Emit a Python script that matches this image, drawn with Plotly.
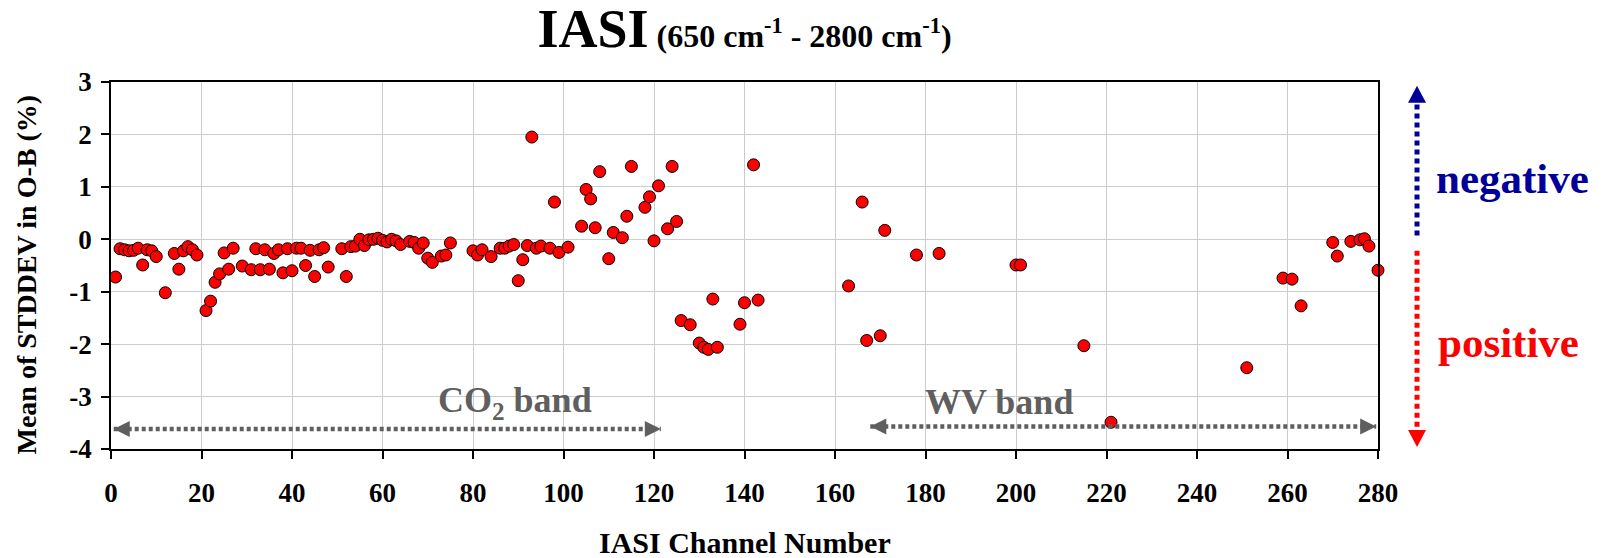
import plotly.graph_objects as go

# ---------------- data ----------------
channels = [1, 2, 3, 4, 5, 6, 7, 8, 9, 10, 12, 14, 15, 16, 17, 18, 19, 21, 22, 23,
            24, 25, 26, 27, 29, 31, 32, 33, 34, 35, 36, 37, 38, 39, 40, 41, 42, 43, 44, 45,
            46, 47, 48, 51, 52, 53, 54, 55, 56, 57, 58, 59, 60, 61, 62, 63, 64, 66, 67, 68,
            69, 70, 71, 73, 74, 75, 80, 81, 82, 84, 86, 87, 88, 89, 90, 91, 92, 93, 94, 95,
            97, 98, 99, 101, 104, 105, 106, 107, 108, 110, 111, 113, 114, 115, 118, 119, 120, 121, 123, 124,
            125, 126, 128, 130, 131, 132, 133, 134, 139, 140, 142, 143, 163, 166, 167, 170, 171, 178, 183, 200,
            201, 215, 221, 251, 259, 261, 263, 270, 271, 274, 276, 277, 278, 280]
stddev_change = [-0.72, -0.18, -0.20, -0.22, -0.21, -0.17, -0.49, -0.20, -0.22, -0.33, -1.02, -0.27, -0.57, -0.22, -0.14, -0.20, -0.30, -1.36, -1.18, -0.82,
                 -0.66, -0.26, -0.57, -0.17, -0.51, -0.58, -0.18, -0.58, -0.20, -0.57, -0.27, -0.20, -0.64, -0.18, -0.60, -0.17, -0.17, -0.50, -0.21, -0.71,
                 -0.20, -0.16, -0.53, -0.18, -0.71, -0.14, -0.13, 0.00, -0.12, -0.01, 0.00, 0.02, -0.02, -0.05, 0.00, -0.03, -0.10, -0.04, -0.06, -0.17,
                 -0.07, -0.36, -0.44, -0.32, -0.30, -0.07, -0.22, -0.30, -0.20, -0.33, -0.17, -0.17, -0.13, -0.10, -0.79, -0.39, -0.12, 1.95, -0.17, -0.13,
                 -0.17, 0.71, -0.25, -0.15, 0.25, 0.95, 0.77, 0.22, 1.29, -0.37, 0.13, 0.03, 0.44, 1.39, 0.61, 0.81, -0.03, 1.02, 0.20, 1.39,
                 0.34, -1.55, -1.63, -1.98, -2.06, -2.10, -1.14, -2.06, -1.62, -1.21, 1.42, -1.16, -0.89, 0.71, -1.93, -1.84, 0.17, -0.30, -0.27, -0.49,
                 -0.49, -2.03, -3.49, -2.45, -0.74, -0.76, -1.27, -0.06, -0.32, -0.04, -0.01, 0.01, -0.13, -0.59]
assert len(channels) == len(stddev_change)

x_tickvals = [0, 20, 40, 60, 80, 100, 120, 140, 160, 180, 200, 220, 240, 260, 280]
x_ticktext = ["0", "20", "40", "60", "80", "100", "120", "140", "160", "180", "200", "220", "240", "260", "280"]
y_tickvals = [-4, -3, -2, -1, 0, 1, 2, 3]
y_ticktext = ["-4", "-3", "-2", "-1", "0", "1", "2", "3"]

FONT = "Liberation Serif, Times New Roman, serif"
GRAY = "#5f5f5f"
BLUE = "#000099"
RED = "#ff0000"

W, H = 1596, 550  # page body adds an 8px offset inside the 1604x558 window

fig = go.Figure()
fig.add_trace(go.Scatter(
    x=channels, y=stddev_change, mode="markers",
    marker=dict(color=RED, size=12, line=dict(color="black", width=1)),
    cliponaxis=False, showlegend=False, hoverinfo="x+y",
))

shapes = []
annotations = []

# ---- band arrows (dotted, with triangle heads) ----
def h_arrow(x_left_tip, x_right_tip, y):
    head = 16  # px
    shapes.append(dict(type="line", xref="x", yref="y",
                       x0=x_left_tip, x1=x_right_tip, y0=y, y1=y,
                       line=dict(color=GRAY, width=4.5, dash="4px,3px"),
                       layer="above"))
    shapes.append(dict(type="path", xref="x", yref="y", xsizemode="pixel", ysizemode="pixel",
                       xanchor=x_left_tip, yanchor=y,
                       path=f"M 0,0 L {head},8 L {head},-8 Z",
                       fillcolor=GRAY, line=dict(width=0), layer="above"))
    shapes.append(dict(type="path", xref="x", yref="y", xsizemode="pixel", ysizemode="pixel",
                       xanchor=x_right_tip, yanchor=y,
                       path=f"M 0,0 L {-head},8 L {-head},-8 Z",
                       fillcolor=GRAY, line=dict(width=0), layer="above"))

h_arrow(0.6, 121.5, -3.62)
h_arrow(167.8, 279.6, -3.57)

annotations.append(dict(x=89.3, y=-3.11, xref="x", yref="y", showarrow=False,
                        text="CO<sub>2</sub> band", xanchor="center", yanchor="middle",
                        font=dict(family=FONT, size=36, color=GRAY, weight="bold")))
annotations.append(dict(x=196.2, y=-3.11, xref="x", yref="y", showarrow=False,
                        text="WV band", xanchor="center", yanchor="middle",
                        font=dict(family=FONT, size=36, color=GRAY, weight="bold")))

# ---- right side vertical arrows ----
xr = 1.0308
shapes.append(dict(type="line", xref="paper", yref="y", x0=xr, x1=xr, y0=0.07, y1=2.62,
                   line=dict(color=BLUE, width=5, dash="5px,4px")))
shapes.append(dict(type="path", xref="paper", yref="y", xsizemode="pixel", ysizemode="pixel",
                   xanchor=xr, yanchor=2.93, path="M 0,0 L -9,-17 L 9,-17 Z",
                   fillcolor=BLUE, line=dict(width=0)))
shapes.append(dict(type="line", xref="paper", yref="y", x0=xr, x1=xr, y0=-0.22, y1=-3.64,
                   line=dict(color=RED, width=5, dash="5px,4px")))
shapes.append(dict(type="path", xref="paper", yref="y", xsizemode="pixel", ysizemode="pixel",
                   xanchor=xr, yanchor=-3.96, path="M 0,0 L -9,17 L 9,17 Z",
                   fillcolor=RED, line=dict(width=0)))

annotations.append(dict(x=1.0445, y=1.16, xref="paper", yref="y", showarrow=False,
                        text="negative", xanchor="left", yanchor="middle",
                        font=dict(family=FONT, size=43, color=BLUE, weight="bold")))
annotations.append(dict(x=1.0455, y=-1.96, xref="paper", yref="y", showarrow=False,
                        text="positive", xanchor="left", yanchor="middle",
                        font=dict(family=FONT, size=43, color=RED, weight="bold")))

# ---- axis titles ----
annotations.append(dict(x=0, y=0.5, xref="paper", yref="paper", showarrow=False,
                        xshift=-85, yshift=-9, textangle=-90,
                        text="Mean of STDDEV in O-B (%)", xanchor="center", yanchor="middle",
                        font=dict(family=FONT, size=28, color="black", weight="bold")))
annotations.append(dict(x=0.5, y=0, xref="paper", yref="paper", showarrow=False,
                        yshift=-93, text="IASI Channel Number", xanchor="center", yanchor="middle",
                        font=dict(family=FONT, size=30, color="black", weight="bold")))

axis_common = dict(showline=True, linecolor="black", linewidth=1.5, mirror=True,
                   ticks="outside", ticklen=8, tickwidth=1.5, tickcolor="black",
                   showgrid=True, gridcolor="#cccccc", gridwidth=1, zeroline=False,
                   tickfont=dict(family=FONT, size=27, color="black", weight="bold"))

fig.update_layout(
    width=W, height=H,
    margin=dict(l=103, r=226, t=74, b=109),
    paper_bgcolor="white", plot_bgcolor="white",
    font=dict(family=FONT, color="black", weight="bold"),
    title=dict(text="IASI<span style='font-size:32px'> (650 cm<sup>-1</sup> - 2800 cm<sup>-1</sup>)</span>",
               x=0.5, xref="paper", xanchor="center",
               y=1 - 20 / H, yref="container", yanchor="middle",
               font=dict(family=FONT, size=54, color="black", weight="bold")),
    xaxis=dict(range=[0, 280], tickvals=x_tickvals, ticktext=x_ticktext,
               ticklabelstandoff=11, **axis_common),
    yaxis=dict(range=[-4, 3], tickvals=y_tickvals, ticktext=y_ticktext,
               ticklabelstandoff=4, **axis_common),
    shapes=shapes, annotations=annotations, showlegend=False,
)

fig.write_html("out.html")
